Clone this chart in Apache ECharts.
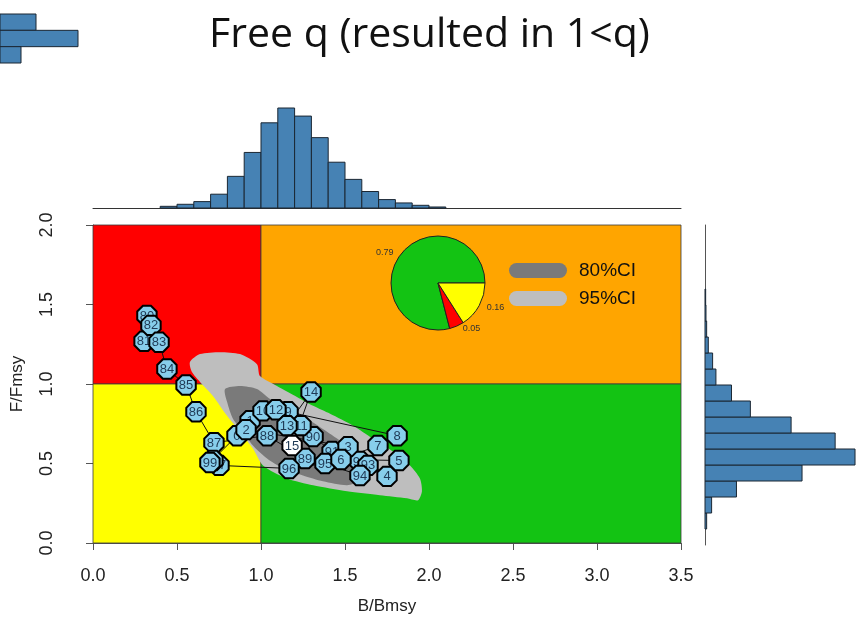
<!DOCTYPE html>
<html><head><meta charset="utf-8">
<script src="https://cdn.jsdelivr.net/npm/echarts@6.0.0/dist/echarts.min.js"></script>
<style>html,body{margin:0;padding:0;background:#fff}#c{width:859px;height:620px}</style>
</head><body><div id="c"></div>
<script>
// ---- data ----
const yearLabels = ['80','81','82','83','84','85','86','87','88','89','90','91','92','93','94','95','96','97','98','99','0','1','2','3','4','5','6','7','8','9','10','11','12','13','14','15'];
const bBmsy = [0.321,0.304,0.345,0.393,0.440,0.554,0.613,0.720,1.036,1.262,1.310,1.423,1.589,1.637,1.589,1.381,1.167,0.750,0.714,0.696,0.857,0.935,0.911,1.518,1.750,1.821,1.476,1.696,1.810,1.161,1.012,1.238,1.089,1.155,1.298,1.185];
const fFmsy = [1.431,1.269,1.369,1.263,1.094,0.994,0.825,0.631,0.675,0.531,0.669,0.575,0.513,0.488,0.425,0.500,0.469,0.488,0.519,0.506,0.675,0.769,0.713,0.606,0.419,0.519,0.525,0.613,0.675,0.825,0.831,0.738,0.838,0.738,0.950,0.613];

const ci95B = [0.577,0.637,0.756,0.875,0.976,0.994,1.095,1.214,1.310,1.411,1.548,1.667,1.786,1.887,1.946,1.958,1.935,1.869,1.708,1.512,1.310,1.155,1.012,0.952,0.875,0.798,0.714,0.637,0.589];
const ci95F = [1.138,1.188,1.200,1.188,1.125,1.050,0.988,0.919,0.863,0.813,0.738,0.656,0.575,0.488,0.406,0.325,0.269,0.281,0.300,0.325,0.363,0.406,0.488,0.594,0.700,0.800,0.925,1.013,1.075];
const ci80B = [0.786,0.875,0.976,1.054,1.173,1.274,1.393,1.512,1.589,1.619,1.589,1.512,1.369,1.250,1.131,1.036,0.952,0.893,0.833,0.798];
const ci80F = [0.969,0.988,0.969,0.906,0.844,0.781,0.700,0.613,0.550,0.469,0.394,0.363,0.388,0.425,0.469,0.531,0.613,0.700,0.781,0.888];

const quadrants = [[0,1,1,2],[1,3.5,1,2],[0,1,0,1],[1,3.5,0,1]]; // x0,x1,y0,y1
const pieNames = ['green','red','yellow'];
const pieValues = [0.79,0.05,0.16];

const topBinStart = [0.4,0.5,0.6,0.7,0.8,0.9,1.0,1.1,1.2,1.3,1.4,1.5,1.6,1.7,1.8,1.9,2.0];
const topCounts = [5,11,19,41,94,165,253,297,273,209,136,85,49,25,15,8,3];
const rightBinStart = [0.1,0.2,0.3,0.4,0.5,0.6,0.7,0.8,0.9,1.0,1.1,1.2,1.3,1.4,1.5];
const rightCounts = [5,20,95,293,453,393,260,137,80,33,23,10,5,3,2];
const cornerBinStart = [2,1,0];
const cornerCounts = [36,78,21];

const xTicks = ['0.0','0.5','1.0','1.5','2.0','2.5','3.0','3.5'];
const yTicks = ['0.0','0.5','1.0','1.5','2.0'];

// ---- styles ----
const quadColors = ['#FF0000','#FFA500','#FFFF00','#13C313'];
const pieColors = {green:'#13C313', red:'#FF0000', yellow:'#FFFF00'};
const histFill = '#4682B4';
const FONT = 'Liberation Sans, Arial, sans-serif';

const chart = echarts.init(document.getElementById('c'), null, {renderer:'canvas'});

function polySeries(name, B, F, color, z){
  return {
    type:'custom', name:name, xAxisIndex:0, yAxisIndex:0, z:z, silent:true,
    itemStyle:{color:color},
    data:[[B[0],F[0]]],
    renderItem:(params, api)=>({
      type:'polygon',
      shape:{points:B.map((b,i)=>api.coord([b,F[i]])), smooth:0.25},
      style:{fill:color}
    })
  };
}

function histSeries(xi, yi, starts, counts, horizontal){
  return {
    type:'custom', xAxisIndex:xi, yAxisIndex:yi, silent:true, z:3,
    data: starts.map((s,i)=>[s,counts[i]]),
    renderItem:(params, api)=>{
      const s = api.value(0), c = api.value(1);
      let p0, p1;
      if(!horizontal){ p0 = api.coord([s, c]); p1 = api.coord([s+0.1, 0]); }
      else { const w = (xi===3)?1:0.1; p0 = api.coord([0, s+w]); p1 = api.coord([c, s]); }
      return {type:'rect', shape:{x:p0[0], y:p0[1], width:p1[0]-p0[0], height:p1[1]-p0[1]},
        style:{fill:histFill, stroke:'#1b2733', lineWidth:1}};
    }
  };
}

const pointData = bBmsy.map((b,i)=>[b,fFmsy[i]]);

const option = {
  backgroundColor:'#ffffff',
  animation:false,
  title:{text:'Free q (resulted in 1<q)', left:'center', top:10,
    textStyle:{fontFamily:'Open Sans, sans-serif', fontSize:41, fontWeight:'normal', color:'#111'}},
  legend:{
    data:['80%CI','95%CI'], orient:'vertical', left:504, top:256, itemWidth:58, itemHeight:15, itemGap:9,
    icon:'path://M7.5,0 L50.5,0 A7.5,7.5 0 0 1 50.5,15 L7.5,15 A7.5,7.5 0 0 1 7.5,0 Z',
    textStyle:{fontFamily:FONT, fontSize:19, color:'#111', padding:[0,0,0,7]},
    selectedMode:false
  },
  grid:[
    {left:93, top:225, width:588, height:320},
    {left:93, top:108, width:588, height:100},
    {left:705, top:225, width:154, height:320},
    {left:-1, top:14, width:101, height:49}
  ],
  xAxis:[
    {gridIndex:0, type:'value', min:0, max:3.5, interval:0.5, offset:12,
      axisLine:{show:true, lineStyle:{color:'#555', width:1}},
      axisTick:{show:true, length:7, lineStyle:{color:'#555'}},
      splitLine:{show:false},
      axisLabel:{fontFamily:FONT, fontSize:18, color:'#222', margin:12, formatter:(v)=>xTicks[Math.round(v/0.5)]},
      name:'B/Bmsy', nameLocation:'middle', nameGap:43, nameTextStyle:{fontFamily:FONT, fontSize:17, color:'#222'}},
    {gridIndex:1, type:'value', min:0, max:3.5, axisLine:{show:true, onZero:false, lineStyle:{color:'#333'}},
      axisTick:{show:false}, axisLabel:{show:false}, splitLine:{show:false}},
    {gridIndex:2, type:'value', min:0, max:465, show:false},
    {gridIndex:3, type:'value', min:0, max:100, show:false}
  ],
  yAxis:[
    {gridIndex:0, type:'value', min:0, max:2, interval:0.5, offset:23,
      axisLine:{show:true, lineStyle:{color:'#555', width:1}},
      axisTick:{show:true, length:7, lineStyle:{color:'#555'}},
      splitLine:{show:false},
      axisLabel:{fontFamily:FONT, fontSize:18, color:'#222', rotate:90, margin:14, formatter:(v)=>yTicks[Math.round(v/0.5)]},
      name:'F/Fmsy', nameLocation:'middle', nameRotate:90, nameGap:44, nameTextStyle:{fontFamily:FONT, fontSize:17, color:'#222'}},
    {gridIndex:1, type:'value', min:0, max:297, show:false},
    {gridIndex:2, type:'value', min:0, max:2, axisLine:{show:true, onZero:false, lineStyle:{color:'#555'}},
      axisTick:{show:false}, axisLabel:{show:false}, splitLine:{show:false}},
    {gridIndex:3, type:'value', min:0, max:3, show:false}
  ],
  series:[
    {type:'custom', xAxisIndex:0, yAxisIndex:0, z:1, silent:true,
      data:quadrants.map(q=>q.slice()),
      renderItem:(params, api)=>{
        const q = quadrants[params.dataIndex];
        const p0 = api.coord([q[0], q[3]]), p1 = api.coord([q[1], q[2]]);
        return {type:'rect', shape:{x:p0[0], y:p0[1], width:p1[0]-p0[0], height:p1[1]-p0[1]},
          style:{fill:quadColors[params.dataIndex], stroke:'#3a3a3a', lineWidth:0.8}};
      }},
    polySeries('95%CI', ci95B, ci95F, '#BEBEBE', 2),
    polySeries('80%CI', ci80B, ci80F, '#7A7A7A', 3),
    {type:'line', xAxisIndex:0, yAxisIndex:0, z:4, silent:true, data:pointData, symbol:'none',
      lineStyle:{color:'#111', width:1}},
    {type:'custom', xAxisIndex:0, yAxisIndex:0, z:5, silent:true, data:pointData,
      renderItem:(params, api)=>{
        const p = api.coord([api.value(0), api.value(1)]);
        const r = 10.5, pts = [];
        for(let k=0;k<8;k++){ const a = Math.PI/8 + k*Math.PI/4; pts.push([p[0]+r*Math.cos(a), p[1]+r*Math.sin(a)]); }
        const last = params.dataIndex === yearLabels.length-1;
        return {type:'group', children:[
          {type:'polygon', shape:{points:pts}, style:{fill:last?'#ffffff':'#87CEEB', stroke:'#000', lineWidth:2}},
          {type:'text', style:{text:yearLabels[params.dataIndex], x:p[0], y:p[1]+0.5, align:'center', verticalAlign:'middle',
            fontSize:13, fontFamily:FONT, fill:'#1f3a55'}}
        ]};
      }},
    {type:'pie', center:[438,283], radius:47, startAngle:0, clockwise:false, silent:true, z:6,
      avoidLabelOverlap:false,
      itemStyle:{borderColor:'#222', borderWidth:1},
      label:{show:true, position:'outside', formatter:'{c}', fontFamily:FONT, fontSize:9, color:'#333'},
      labelLine:{show:false, length:3, length2:0},
      data:pieNames.map((n,i)=>({name:n, value:pieValues[i], itemStyle:{color:pieColors[n]}}))},
    histSeries(1, 1, topBinStart, topCounts, false),
    histSeries(2, 2, rightBinStart, rightCounts, true),
    histSeries(3, 3, cornerBinStart, cornerCounts, true)
  ]
};
chart.setOption(option);
</script></body></html>
